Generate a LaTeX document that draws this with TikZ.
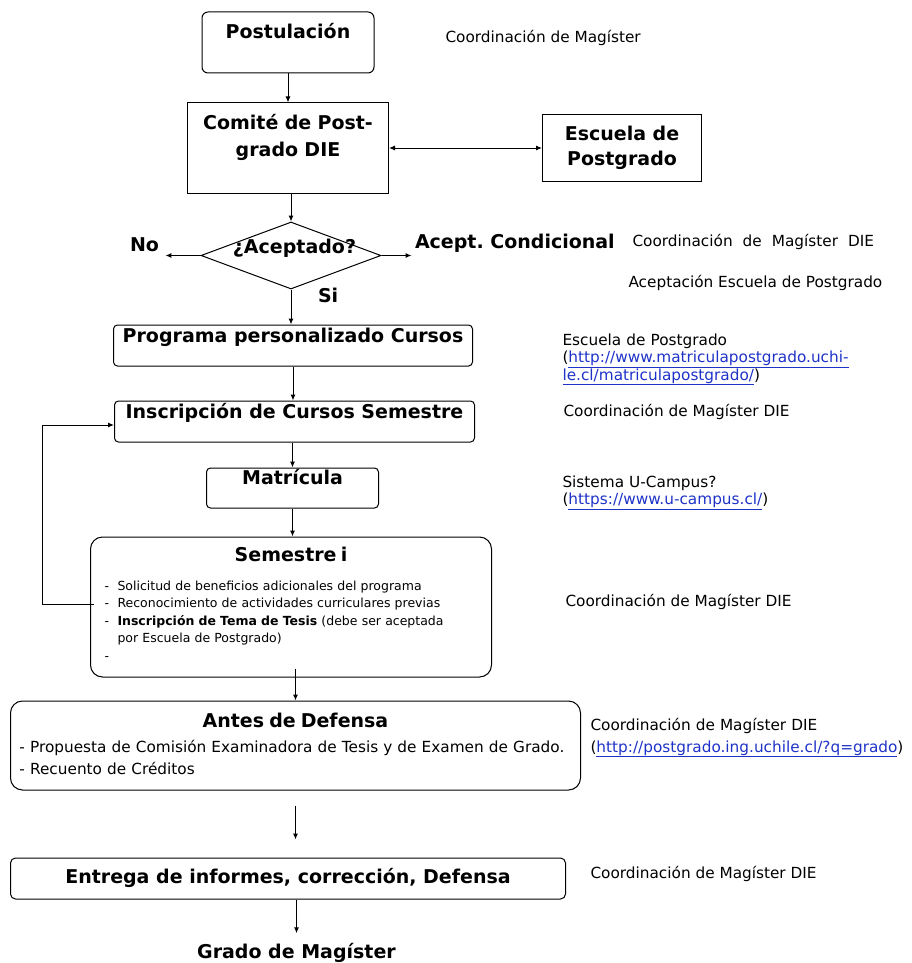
\documentclass[tikz,border=0pt]{standalone}
\usepackage{fontspec}
\setmainfont{DejaVu Sans}
\usetikzlibrary{shapes.geometric,arrows.meta}
\definecolor{enlace}{RGB}{30,50,200}
\newcommand{\fsgrande}{\fontsize{19}{24}\selectfont}
\newcommand{\fsnota}{\fontsize{15.3}{17.5}\selectfont}
\newcommand{\fschica}{\fontsize{12.5}{17.5}\selectfont}
\newcommand{\lnk}[1]{\textcolor{enlace}{\underline{#1}}}
\newcommand{\itm}{\par\hangindent=13pt\hangafter=1\noindent\makebox[13pt][l]{-}}

\begin{document}
\begin{tikzpicture}[x=1pt,y=-1pt,line width=1pt,>={Latex[length=6pt,width=5pt]}]
\tikzstyle{caja}=[draw,inner sep=0pt,font=\bfseries\fsgrande]
\tikzstyle{cajar}=[caja,rounded corners=5pt]
\tikzstyle{decision}=[draw,diamond,inner sep=0pt,minimum width=180pt,minimum height=67pt]
\tikzstyle{titulo}=[inner sep=0pt,anchor=base,font=\bfseries\fsgrande]
\tikzstyle{nota}=[inner sep=0pt,anchor=base west,font=\fsnota,align=left]
\useasboundingbox (0,0) rectangle (912,963);

% columna principal
\node [cajar,rounded corners=6pt,minimum width=172pt,text height=27pt,text depth=34pt] (post) at (288,42.5) {Postulación};
\node [caja,node distance=105.5pt,below of=post,text width=201pt,align=center,text height=27pt,text depth=63pt,
  font=\bfseries\fontsize{19}{26}\selectfont] (comite) {Comité de Post-\\grado DIE};
\node [caja,node distance=334pt,right of=comite,minimum width=159pt,minimum height=67pt,align=center,
  font=\bfseries\fontsize{19}{25}\selectfont] (escuela) {Escuela de\\Postgrado};
\node [decision,node distance=107.5pt,below of=comite,xshift=3pt] (acept) {};
\node [titulo] (aceptxt) at ([xshift=3.5pt,yshift=2.5pt]acept.center) {¿Aceptado?};
\node [titulo] (no) at ([xshift=-146.5pt,yshift=4.5pt]acept.center) {No};
\node [titulo,anchor=base west] (condic) at ([xshift=123.5pt,yshift=7.5pt]acept.center) {Acept.\ Condicional};
\node [titulo,anchor=base west] (si) at ([xshift=26.5pt,yshift=-46.5pt]acept.center) {Si};

\node [cajar,rounded corners=4pt,node distance=90pt,below of=acept,xshift=2pt,minimum width=359pt,
  text height=17pt,text depth=24pt] (programa) {Programa personalizado Cursos};
\node [cajar,rounded corners=4pt,node distance=76pt,below of=programa,xshift=1.5pt,minimum width=360pt,
  text height=17pt,text depth=24pt] (inscripcion) {Inscripción de Cursos Semestre};
\node [cajar,rounded corners=4pt,node distance=66.5pt,below of=inscripcion,xshift=-2pt,minimum width=172pt,
  text height=16pt,text depth=24pt] (matricula) {Matrícula};
\node [cajar,rounded corners=12pt,node distance=119pt,below of=matricula,xshift=-1.5pt,inner xsep=14pt,
  text width=373pt,align=left,text height=24pt,text depth=116pt,font=\fschica] (semestre)
  {{\centering\bfseries\fsgrande Semestre i\par}\vspace{11.5pt}%
   \itm\mbox{Solicitud de beneficios adicionales del programa}
   \itm\mbox{Reconocimiento de actividades curriculares previas}
   \itm\mbox{\textbf{Inscripción de Tema de Tesis} (debe ser aceptada}\newline por Escuela de Postgrado)
   \itm\par};
\node [cajar,rounded corners=12pt,node distance=138.5pt,below of=semestre,xshift=4.5pt,inner xsep=9pt,
  text width=552pt,align=left,text height=26pt,text depth=63pt,font=\fontsize{15.3}{22}\selectfont] (antes)
  {{\centering\bfseries\fsgrande Antes de Defensa\par}\vspace{3pt}%
   \mbox{- Propuesta de Comisión Examinadora de Tesis y de Examen de Grado.}\par
   - Recuento de Créditos};
\node [cajar,node distance=133pt,below of=antes,xshift=-7.5pt,minimum width=555pt,
  text height=25pt,text depth=16pt] (entrega) {Entrega de informes, corrección, Defensa};
\node [titulo] (grado) at ([xshift=8.5pt,yshift=-79.5pt]entrega.center) {Grado de Magíster};

% notas a la derecha
\node [nota] (n1) at (445,43) {Coordinación de Magíster};
\node [nota] (n2) at (632,246) {Coordinación\hspace{10pt}de\hspace{10pt}Magíster\hspace{10pt}DIE};
\node [nota] (n3) at (628,287) {Aceptación Escuela de Postgrado};
\node [nota,text width=300pt] (n4) at (562,345)
  {Escuela de Postgrado\\(\lnk{http://www.matriculapostgrado.uchi-}\\\lnk{le.cl/matriculapostgrado/})};
\node [nota] (n5) at (563,416) {Coordinación de Magíster DIE};
\node [nota,text width=300pt] (n6) at (562,487) {Sistema U-Campus?\\(\lnk{https://www.u-campus.cl/})};
\node [nota] (n7) at (565,606) {Coordinación de Magíster DIE};
\node [nota,text width=330pt,font=\fontsize{15.3}{22}\selectfont] (n8) at (590,730)
  {Coordinación de Magíster DIE\\(\lnk{http://postgrado.ing.uchile.cl/?q=grado})};
\node [nota] (n9) at (590,878) {Coordinación de Magíster DIE};

% flechas
\draw[->] (post) -- (comite);
\draw[<->] (comite) -- (escuela);
\draw[->] (comite.south -| acept.north) -- (acept.north);
\draw[->,shorten >=6pt] (acept.west) -- (acept.west -| no.east);
\draw[->,shorten >=3pt] (acept.east) -- (acept.east -| condic.west);
\draw[->] (acept.south) -- (acept.south |- programa.north);
\draw[->] (programa.south) -- (programa.south |- inscripcion.north);
\draw[->] (inscripcion.south -| matricula.north) -- (matricula.north);
\draw[->] (matricula.south) -- (matricula.south |- semestre.north);
\draw[->] ([xshift=4pt,yshift=3pt]semestre.west) -- ++(-52,0) |- ([yshift=-3.5pt]inscripcion.west);
\draw[->,shorten <=-9pt] (semestre.south -| antes.north) -- (antes.north);
\draw[->,shorten <=15pt,shorten >=18pt] (antes.south) -- (antes.south |- entrega.north);
\draw[->,shorten >=9pt] (entrega.south -| grado.north) -- (grado.north);
\end{tikzpicture}
\end{document}
